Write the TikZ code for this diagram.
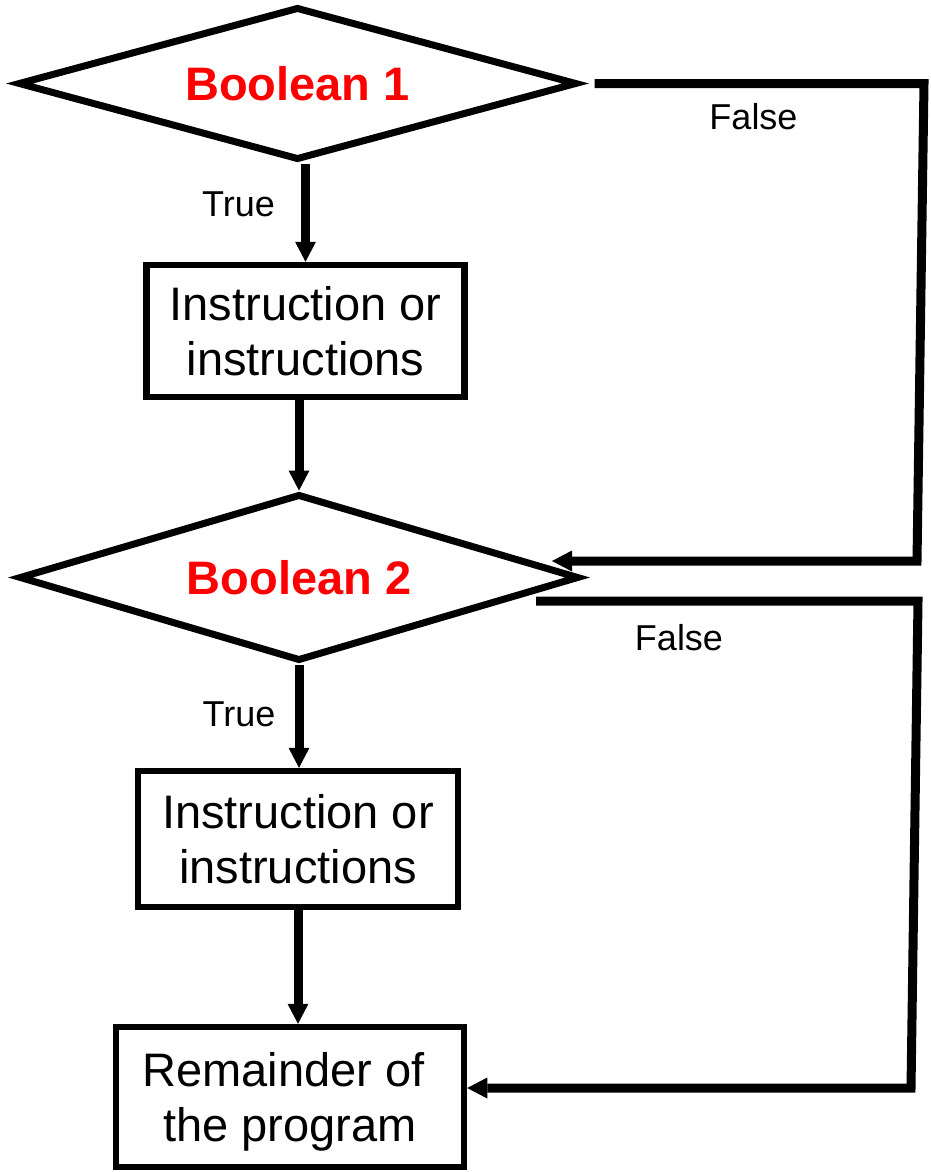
\documentclass[tikz,border=0pt]{standalone}
\usepackage{fontspec}
\setmainfont{Liberation Sans}
\usetikzlibrary{shapes.geometric,arrows.meta}
\definecolor{boolred}{RGB}{255,0,0}
\begin{document}
\begin{tikzpicture}[x=1pt,y=-1pt,
  decision/.style={diamond, draw, line width=7pt, aspect=3.6, inner sep=0pt,
    minimum width=559pt, minimum height=153pt, text=boolred,
    font=\fontsize{47pt}{56pt}\selectfont\bfseries},
  stepbox/.style={rectangle, draw, line width=6.5pt, inner sep=0pt, align=center,
    text depth=0pt, font=\fontsize{47pt}{55pt}\selectfont},
  conn/.style={line width=9pt, -{Triangle[length=20pt,width=21pt,line width=0pt]}},
  lbl/.style={font=\fontsize{36pt}{40pt}\selectfont, inner sep=0pt}
]
\useasboundingbox (0,0) rectangle (930,1172);

% decisions and instruction blocks
\node[decision] (b1) at (297.5,83.5) {Boolean 1};
\node[stepbox, minimum width=318pt, minimum height=132pt] (s1) at (305.5,331) {Instruction or\\instructions};
\node[decision, minimum width=560pt, minimum height=167pt] (b2) at (299,577.5) {Boolean 2};
\node[stepbox, minimum width=320pt, minimum height=136pt] (s2) at (298,839) {Instruction or\\instructions};
\node[stepbox, minimum width=348pt, minimum height=140pt] (s3) at (290,1097) {Remainder of\kern13pt\\the program};

% main flow
\draw[conn] (s1.north |- b1.south) -- (s1.north);
\draw[conn] (b2.north |- s1.south) -- (b2.north);
\draw[conn] (b2.south) -- (b2.south |- s2.north);
\draw[conn] (s2.south) -- (s2.south |- s3.north);

% false branches, their right-hand runs leaning slightly inwards
\coordinate (o1) at ([xshift=14pt]b1.east);
\coordinate (r1top) at (924,0);
\coordinate (r1bot) at (917,0);
\coordinate (in2) at (552,561);
\draw[conn] (o1) -- (o1 -| r1top) -- (r1bot |- in2) -- (in2);

\coordinate (o2) at (536,601);
\coordinate (r2top) at (918,0);
\coordinate (r2bot) at (911,0);
\coordinate (in3) at (0,1088);
\draw[conn] (o2) -- (o2 -| r2top) -- (r2bot |- in3) -- (in3 -| s3.east);

% branch labels
\node[lbl] (t1) at (238.5,204) {True};
\node[lbl] (t2) at (239,714) {True};
\node[lbl] (f1) at (753.5,117) {False};
\node[lbl] (f2) at (679,638) {False};
\end{tikzpicture}
\end{document}
